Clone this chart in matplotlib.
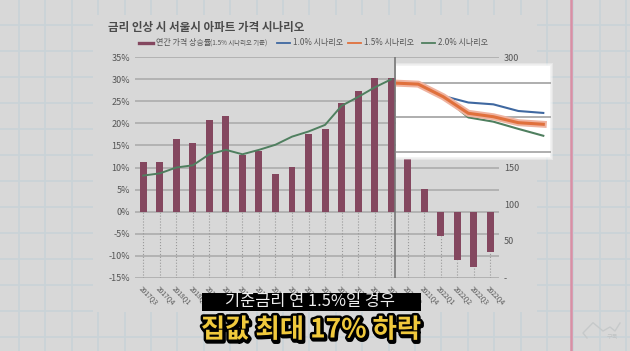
import numpy as np
import matplotlib
matplotlib.use('Agg')
import matplotlib.pyplot as plt
import matplotlib.patheffects as pe
from matplotlib.patches import Rectangle

plt.rcParams['font.family'] = ['Noto Sans CJK KR', 'DejaVu Sans']

#chart data
quarters = ['2017Q3', '2017Q4', '2018Q1', '2018Q2', '2018Q3', '2018Q4', '2019Q1', '2019Q2',
            '2019Q3', '2019Q4', '2020Q1', '2020Q2', '2020Q3', '2020Q4', '2021Q1', '2021Q2',
            '2021Q3', '2021Q4', '2022Q1', '2022Q2', '2022Q3', '2022Q4']
rise_rate = [11.3, 11.3, 16.4, 15.5, 20.8, 21.7, 12.8, 13.8, 8.6, 10.1, 17.6, 18.7,
             24.6, 27.4, 30.2, 30.2, 12.0, 5.1, -5.6, -11.0, -12.5, -9.2]
#price index up to the turning point (right axis)
history = [139, 142, 150, 153, 168, 174, 168, 174, 181, 192, 199, 208, 234, 246, 259, 270]
#scenarios, quarters 2021Q2 to 2022Q4 (right axis)
scenario_idx = [15, 16, 17, 18, 19, 20, 21]
scen_10 = [270, 269, 258.7, 253, 251.4, 245.6, 243.9]
scen_15 = [270, 269, 258, 243.6, 240.6, 235.4, 234]
scen_20 = [270, 269, 258, 240, 236.3, 230, 224]

left_ticks = [-15, -10, -5, 0, 5, 10, 15, 20, 25, 30, 35]
left_labels = ['-15%', '-10%', '-5%', '0%', '5%', '10%', '15%', '20%', '25%', '30%', '35%']
right_ticks = [0, 50, 100, 150, 200, 250, 300]
right_labels = ['-', '50', '100', '150', '200', '250', '300']

BG = '#d8d8d8'
PAPER = '#c9d3d7'
GRID = '#a9a9a9'
TXT = '#555555'
BAR = '#84475f'
BLUE = '#3f68a0'
ORANGE = '#e0703c'
SALMON = '#efb3a0'
GREEN = '#4f7f5f'

W, H = 630, 351
fig = plt.figure(figsize=(W/100, H/100), dpi=100, facecolor=BG)

def px_axes(x0, y0, x1, y1, z):
    #axes from pixel box, y counted from the top
    return fig.add_axes([x0/W, 1-y1/H, (x1-x0)/W, (y1-y0)/H], zorder=z)

#background paper
bg = px_axes(0, 0, W, H, 0)
bg.set_xlim(0, W)
bg.set_ylim(H, 0)
bg.axis('off')
for x in np.arange(19, W, 26.4):
    bg.plot([x, x], [0, H], color=PAPER, lw=1.2)
for y in np.arange(25, H, 26.0):
    bg.plot([0, W], [y, y], color=PAPER, lw=1.2)
bg.add_patch(Rectangle((93, 15), 444, 297, fc=BG, ec='none', zorder=3))
bg.plot([570.7, 570.7], [0, H], color='#d98fa5', lw=1.8, zorder=4)
#watermark
bg.plot([587, 583, 593, 603, 610, 615, 620], [338, 333, 322.7, 331, 327, 331, 323], color='#c6c9ca', lw=1, zorder=4)
bg.text(612, 337, '구독', fontsize=4.5, color='#c0c3c4', ha='center', va='center', zorder=4)

#main chart
ax = px_axes(135, 57.3, 498.6, 277.7, 1)
ax.patch.set_alpha(0)
x = np.arange(len(quarters))
ax.bar(x, rise_rate, width=0.42, color=BAR, zorder=3)
ax.vlines(x, -15, np.minimum(rise_rate, 0), color='#999999', lw=0.8, linestyles=':', zorder=1)
ax.plot(x[:len(history)], (np.array(history)-90)/6.0, color=GREEN, lw=1.4, zorder=4)
ax.axvline(15.25, color='#777777', lw=1.2, zorder=5)
ax.set_xlim(-0.5, 21.5)
ax.set_ylim(-15, 35)
ax.set_yticks(left_ticks)
ax.set_yticklabels(left_labels, fontsize=6.5, color=TXT)
ax.set_xticks(x)
ax.set_xticklabels(quarters, fontsize=4.8, color=TXT, rotation=-45, ha='left', va='top', rotation_mode='anchor')
ax.tick_params(axis='both', length=0)
ax.tick_params(axis='y', pad=3.6)
ax.tick_params(axis='x', pad=5)
ax.grid(axis='y', color=GRID, lw=1.1, zorder=0)
ax.set_axisbelow(True)
for s in ax.spines.values():
    s.set_visible(False)

ax2 = ax.twinx()
ax2.set_ylim(0, 300)
ax2.set_yticks(right_ticks)
ax2.set_yticklabels(right_labels, fontsize=6.5, color=TXT)
ax2.tick_params(axis='y', length=0, pad=3.9)
for s in ax2.spines.values():
    s.set_visible(False)

#overlay for white box, title, legend, caption
top = px_axes(0, 0, W, H, 2)
top.set_xlim(0, W)
top.set_ylim(H, 0)
top.axis('off')
top.patch.set_alpha(0)
#soft edge on three sides, hard on the left
for i in range(3, -1, -1):
    top.add_patch(Rectangle((395.6, 66-i), 154+i, 91+2*i, fc='white', ec='none', alpha=0.35 if i else 1))

#enlarged scenario lines on the white box
ins = px_axes(395.6, 66, 551, 157, 3)
ins.patch.set_alpha(0)
ins.set_xlim(15+(395.6-393.3)/25, 15+(551-393.3)/25)
ins.set_ylim(270-(157-83)/1.147, 270+(83-66)/1.147)
ins.set_yticks([210, 240, 270])
ins.grid(axis='y', color='#999999', lw=1.1)
ins.set_axisbelow(True)
ins.set_xticks([])
ins.tick_params(axis='y', length=0, labelleft=False)
for s in ins.spines.values():
    s.set_visible(False)
ins.plot(scenario_idx, scen_10, color=BLUE, lw=1.5)
ins.plot(scenario_idx, scen_20, color=GREEN, lw=1.5)
ins.plot(scenario_idx, scen_15, color=SALMON, lw=5, solid_capstyle='projecting')
ins.plot(scenario_idx, scen_15, color=ORANGE, lw=2.2)

#title and legend
top.text(108, 27.5, '금리 인상 시 서울시 아파트 가격 시나리오', fontsize=8.3, color='#4a4a4a', fontweight='bold', va='center')
top.plot([139, 152.5], [43, 43], color=BAR, lw=2.4)
top.text(155.6, 43, '연간 가격 상승률', fontsize=5.8, color=TXT, va='center')
top.text(210.5, 43.3, '(1.5% 시나리오 기준)', fontsize=4.6, color=TXT, va='center')
for x0, col, lab in [(276.7, BLUE, '1.0% 시나리오'), (348, ORANGE, '1.5% 시나리오'), (421.7, GREEN, '2.0% 시나리오')]:
    top.plot([x0, x0+13], [43, 43], color=col, lw=1.3)
    top.text(x0+16, 43, lab, fontsize=5.8, color=TXT, va='center')

#subtitle caption
cap = px_axes(0, 0, W, H, 4)
cap.set_xlim(0, W)
cap.set_ylim(H, 0)
cap.axis('off')
cap.patch.set_alpha(0)
cap.add_patch(Rectangle((201.7, 293), 219.3, 18, fc='black', ec='none'))
cap.text(310, 301.5, '기준금리 연 1.5%일 경우', fontsize=11.8, color='#eeeeee', ha='center', va='center')
t = cap.text(311, 330, '집값 최대 17% 하락', fontsize=19, color='#f0c93c', ha='center', va='center', fontweight='black')
t.set_path_effects([pe.withStroke(linewidth=3.5, foreground='black'),
                    pe.Stroke(linewidth=3.5, foreground='black', offset=(0.8, -1.2)),
                    pe.Normal()])

fig.savefig('out.png', dpi=100, facecolor=BG)
